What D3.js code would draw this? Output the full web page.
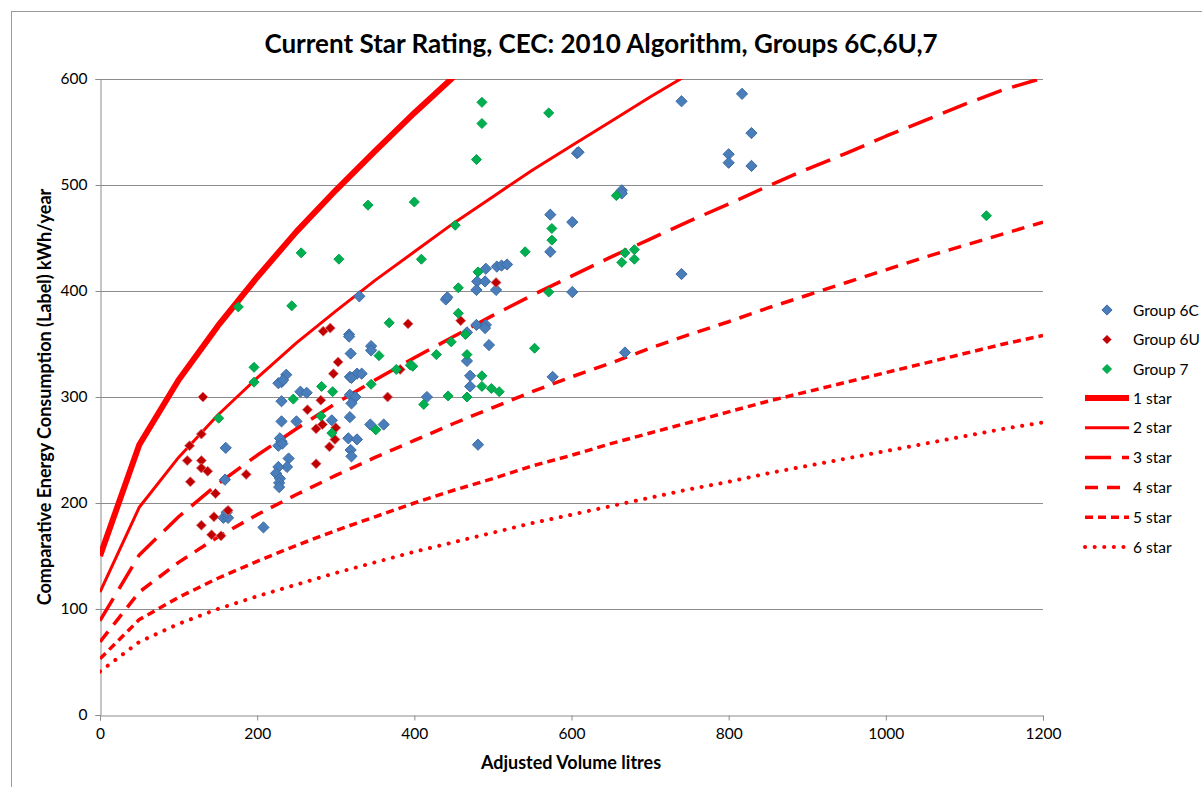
<!DOCTYPE html>
<html>
<head>
<meta charset="utf-8">
<script src="https://cdn.jsdelivr.net/npm/d3@7"></script>
<style>
  body { margin: 0; background: #fff; }
  text { font-family: Lato, "Open Sans", sans-serif; fill: #000; }
</style>
</head>
<body>
<script>
// adjusted volume (litres) at which the star rating lines are evaluated
const volumes = [0, 50, 100, 150, 200, 250, 300, 350, 400, 450, 500, 550, 600,
  650, 700, 750, 800, 850, 900, 950, 1000, 1050, 1100, 1150, 1200];

// star rating lines, kWh/year
const star1 = [150, 255, 316, 367, 413, 456, 495, 532, 568, 602, 635, 667, 698, 728, 757, 786, 814, 841, 868, 894, 920, 945, 971, 996, 1019];
const star2 = [116, 196, 243, 283, 318, 351, 381, 410, 437, 464, 489, 514, 537, 560, 583, 605, 627, 648, 668, 688, 708, 728, 748, 767, 785];
const star3 = [89, 151, 187, 218, 245, 270, 294, 316, 337, 357, 377, 396, 414, 432, 449, 466, 482, 499, 515, 530, 546, 561, 576, 590, 601];
const star4 = [69, 116, 144, 168, 189, 208, 226, 243, 259, 275, 290, 305, 319, 332, 346, 359, 371, 384, 396, 408, 420, 432, 443, 454, 465];
const star5 = [53, 90, 111, 129, 145, 160, 174, 187, 200, 212, 223, 235, 245, 256, 266, 276, 286, 296, 305, 314, 323, 332, 341, 350, 358];
const star6 = [41, 69, 86, 100, 112, 123, 134, 144, 154, 163, 172, 181, 189, 197, 205, 213, 220, 228, 235, 242, 249, 256, 263, 270, 276];

// [adjusted volume, CEC]
const group6C = [
  [160, 252], [159, 222], [157, 186], [163, 186], [161, 191], [208, 177],
  [231, 314], [227, 313], [237, 321], [233, 316], [231, 296],
  [231, 277], [250, 277], [231, 258], [227, 254], [229, 261], [232, 256],
  [240, 242], [238, 234], [227, 234], [224, 228], [229, 223], [228, 219], [228, 215],
  [255, 305], [263, 304], [318, 319], [327, 322], [333, 322], [320, 318],
  [318, 302], [325, 300], [320, 294], [318, 281], [295, 278], [316, 261], [327, 260],
  [319, 250], [320, 244], [344, 274], [361, 274], [317, 359], [317, 357],
  [345, 348], [345, 344], [319, 341], [330, 395], [440, 392], [442, 394], [416, 300],
  [479, 368], [491, 368], [490, 365], [467, 361], [495, 349], [467, 334],
  [471, 320], [471, 310], [576, 319], [481, 255],
  [491, 421], [505, 423], [511, 424], [518, 425], [480, 409], [490, 409], [479, 401], [504, 401],
  [573, 472], [601, 465], [573, 437], [601, 399], [607, 530], [609, 531],
  [664, 495], [664, 492], [740, 579], [740, 416], [668, 342],
  [817, 586], [829, 549], [800, 529], [800, 521], [829, 518]
];

const group6U = [
  [131, 300], [129, 265], [114, 254], [111, 240], [129, 240], [129, 233], [137, 230],
  [115, 220], [186, 227], [147, 209], [163, 193], [145, 187], [129, 179], [142, 170], [154, 169],
  [284, 362], [293, 365], [392, 369], [303, 333], [297, 322], [281, 297], [264, 288], [366, 300],
  [283, 274], [275, 270], [300, 271], [299, 260], [292, 253], [275, 237],
  [382, 326], [459, 372], [504, 408]
];

const group7 = [
  [176, 385], [244, 386], [196, 328], [196, 314], [246, 298], [151, 280],
  [341, 481], [400, 484], [256, 436], [304, 430], [409, 430], [368, 370], [355, 339],
  [428, 340], [345, 312], [377, 326], [395, 330], [398, 329], [282, 310], [296, 305],
  [281, 282], [295, 266], [351, 269], [486, 578], [486, 558], [571, 568], [479, 524],
  [452, 462], [575, 459], [575, 448], [541, 437], [668, 436], [680, 439], [664, 427], [680, 430],
  [657, 490], [481, 418], [456, 403], [571, 399], [456, 379], [465, 359], [447, 352],
  [467, 340], [553, 346], [486, 320], [486, 310], [498, 308], [508, 305],
  [443, 301], [467, 300], [412, 293], [1128, 471]
];

const xTicks = [0, 200, 400, 600, 800, 1000, 1200];
const yTicks = [0, 100, 200, 300, 400, 500, 600];

const width = 1202, height = 787;
const plot = { left: 100, right: 1043, top: 79, bottom: 715 };

const svg = d3.select('body').append('svg')
  .attr('width', width)
  .attr('height', height);

// chart area border
svg.append('rect')
  .attr('x', 11.5).attr('y', 11.5)
  .attr('width', 1220).attr('height', 800)
  .attr('fill', 'none')
  .attr('stroke', '#9a9a9a');

const x = d3.scaleLinear().domain([0, 1200]).range([plot.left, plot.right]);
const y = d3.scaleLinear().domain([0, 600]).range([plot.bottom, plot.top]);

// gridlines
svg.append('g')
  .selectAll('line')
  .data(yTicks.slice(1))
  .join('line')
  .attr('x1', plot.left).attr('x2', plot.right)
  .attr('y1', d => Math.round(y(d)) + 0.5).attr('y2', d => Math.round(y(d)) + 0.5)
  .attr('stroke', '#8c8c8c');

// axes
const xAxis = svg.append('g')
  .attr('transform', `translate(0,${plot.bottom + 0.5})`)
  .call(d3.axisBottom(x).tickValues(xTicks).tickFormat(d3.format('d')).tickSize(5).tickPadding(7));
const yAxis = svg.append('g')
  .attr('transform', `translate(${plot.left + 0.5},0)`)
  .call(d3.axisLeft(y).tickValues(yTicks).tickFormat(d3.format('d')).tickSize(5).tickPadding(8));

[xAxis, yAxis].forEach(a => {
  a.select('.domain').attr('stroke', '#8c8c8c');
  a.selectAll('.tick line').attr('stroke', '#8c8c8c');
  a.selectAll('text').style('font-family', 'Lato, sans-serif').style('font-size', '15.5px').attr('fill', '#000');
});

// clip for star lines
svg.append('clipPath').attr('id', 'plotclip')
  .append('rect')
  .attr('x', plot.left).attr('y', plot.top)
  .attr('width', plot.right - plot.left).attr('height', plot.bottom - plot.top);

const starSeries = [
  { name: '1 star', values: star1, width: 6, dash: null, cap: 'butt' },
  { name: '2 star', values: star2, width: 3, dash: null, cap: 'butt' },
  { name: '3 star', values: star3, width: 3.5, dash: '26,11', cap: 'butt' },
  { name: '4 star', values: star4, width: 3.5, dash: '13,9', cap: 'butt' },
  { name: '5 star', values: star5, width: 3.5, dash: '8,5', cap: 'butt' },
  { name: '6 star', values: star6, width: 4, dash: '0.1,9.5', cap: 'round' }
];

const line = d3.line()
  .x(d => x(d[0]))
  .y(d => y(d[1]));

svg.append('g')
  .attr('clip-path', 'url(#plotclip)')
  .selectAll('path')
  .data(starSeries)
  .join('path')
  .attr('d', s => line(volumes.map((v, i) => [v, s.values[i]])))
  .attr('fill', 'none')
  .attr('stroke', '#ff0000')
  .attr('stroke-width', s => s.width)
  .attr('stroke-dasharray', s => s.dash)
  .attr('stroke-linecap', s => s.cap)
  .attr('stroke-linejoin', 'round');

// scatter groups
const groups = [
  { name: 'Group 6C', data: group6C, fill: '#4a7ebb', stroke: '#3d6aa3', size: 5.6 },
  { name: 'Group 6U', data: group6U, fill: '#c00000', stroke: 'rgba(220,120,120,0.8)', size: 5 },
  { name: 'Group 7', data: group7, fill: '#00b050', stroke: '#00a048', size: 5 }
];

function diamond(cx, cy, r) {
  return `M${cx},${cy - r}L${cx + r},${cy}L${cx},${cy + r}L${cx - r},${cy}Z`;
}

groups.forEach(g => {
  svg.append('g')
    .selectAll('path')
    .data(g.data)
    .join('path')
    .attr('d', d => diamond(x(d[0]), y(d[1]), g.size))
    .attr('fill', g.fill)
    .attr('stroke', g.stroke)
    .attr('stroke-width', 1);
});

// legend
const legend = svg.append('g');
const lx = 1107, textX = 1133;
groups.forEach((g, i) => {
  const ly = 310 + i * 29.5;
  legend.append('path')
    .attr('d', diamond(lx, ly, g.size - 0.5))
    .attr('fill', g.fill)
    .attr('stroke', g.stroke);
  legend.append('text')
    .attr('x', textX).attr('y', ly + 5.5)
    .style('font-size', '15.5px')
    .text(g.name);
});
starSeries.forEach((s, i) => {
  const ly = 398 + i * 29.8;
  legend.append('line')
    .attr('x1', 1085).attr('x2', 1129)
    .attr('y1', ly).attr('y2', ly)
    .attr('stroke', '#ff0000')
    .attr('stroke-width', s.width)
    .attr('stroke-dasharray', s.dash)
    .attr('stroke-linecap', s.cap);
  legend.append('text')
    .attr('x', textX).attr('y', ly + 5.5)
    .style('font-size', '15.5px')
    .text(s.name);
});

// titles
svg.append('text')
  .attr('x', 601).attr('y', 53)
  .attr('text-anchor', 'middle')
  .style('font-size', '26px')
  .style('font-weight', 'bold')
  .text('Current Star Rating, CEC: 2010 Algorithm, Groups 6C,6U,7');

svg.append('text')
  .attr('x', 571).attr('y', 769)
  .attr('text-anchor', 'middle')
  .style('font-size', '18px')
  .style('font-weight', 'bold')
  .text('Adjusted Volume litres');

svg.append('text')
  .attr('transform', `translate(51,${(plot.top + plot.bottom) / 2}) rotate(-90)`)
  .attr('text-anchor', 'middle')
  .style('font-size', '18px')
  .style('font-weight', 'bold')
  .text('Comparative Energy Consumption (Label) kWh/year');
</script>
</body>
</html>
